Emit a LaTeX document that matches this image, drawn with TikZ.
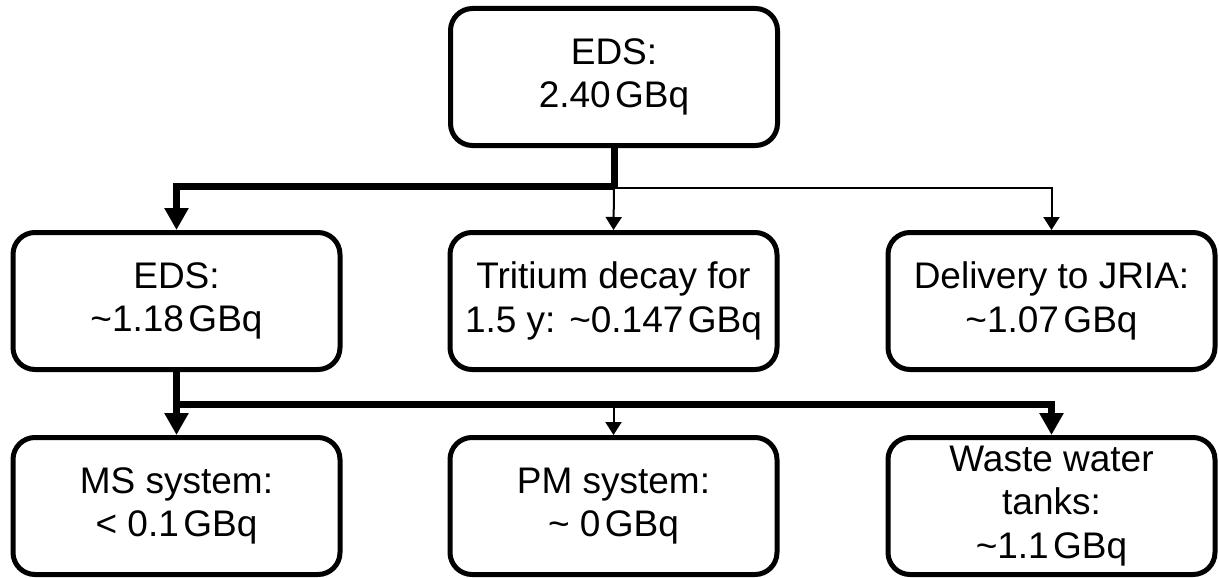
\documentclass[tikz,border=0pt]{standalone}
\usepackage{fontspec}
\setmainfont{Liberation Sans}
\usetikzlibrary{arrows.meta}
\newcommand{\tld}{\textasciitilde}
\newcommand{\gbq}{\kern0.12em GBq}
\begin{document}
\begin{tikzpicture}[x=1pt,y=-1pt,
  box/.style={draw=black,line width=5pt,rounded corners=22pt,align=center,inner sep=0pt,
    minimum width=327pt,minimum height=137pt,
    font=\fontsize{37}{43.5}\selectfont},
  thick conn/.style={line width=7pt},
  thin conn/.style={line width=2pt},
  thick arrow/.style={thick conn,-{Triangle[length=22pt,width=23pt]}},
  thin arrow/.style={thin conn,-{Triangle[length=13pt,width=16pt]}}
]
\useasboundingbox (0,0) rectangle (1219,578);
\node[box] (top) at (614,77) {EDS:\\2.40\gbq};
\node[box] (eds) at (176.5,301) {EDS:\\\tld1.18\gbq};
\node[box] (dec) at (613.5,301) {Tritium decay for\\1.5 y: \tld0.147\gbq};
\node[box] (jria) at (1051.5,301) {Delivery to JRIA:\\\tld1.07\gbq};
\node[box] (ms) at (176.5,506) {MS system:\\< 0.1\gbq};
\node[box] (pm) at (613.5,506) {PM system:\\\tld{} 0\gbq};
\node[box] (ww) at (1051.5,506) {Waste water\\tanks:\\\tld1.1\gbq};
\coordinate (j1) at (top.south |- 0,186.5);
\coordinate (j2) at (eds.south |- 0,404);
% top level
\draw[thick conn] (top.south) -- (j1);
\draw[thick arrow] (j1) -| (eds.north);
\draw[thin arrow] (j1 |- 0,188) -- (dec.north);
\draw[thin arrow] (j1 |- 0,188) -| (jria.north);
% second level
\draw[thick conn] (eds.south) -- (j2);
\draw[thick arrow] (j2) -- (ms.north);
\draw[thick arrow] (j2) -| (ww.north);
\draw[thin arrow] (pm.north |- j2) -- (pm.north);
\end{tikzpicture}
\end{document}
